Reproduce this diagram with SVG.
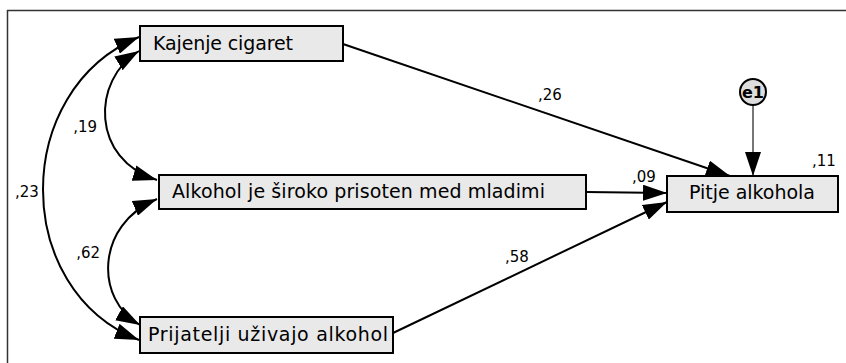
<svg xmlns="http://www.w3.org/2000/svg" width="846" height="363" viewBox="0 0 846 363">
<style>
.box{fill:#e9e9e9;stroke:#000;stroke-width:2}
.lbl{font-family:"DejaVu Sans",sans-serif;font-size:19px;fill:#000}
.num{font-family:"DejaVu Sans",sans-serif;font-size:15px;fill:#000}
.con{fill:none;stroke:#000;stroke-width:2}
.err{fill:none;stroke:#777;stroke-width:2}
</style>
<defs>
<marker id="ah" markerUnits="userSpaceOnUse" markerWidth="26" markerHeight="16" refX="24" refY="8" orient="auto-start-reverse">
<path d="M0,0 L24,8 L0,16 z" fill="#000"/>
</marker>
</defs>
<rect x="0" y="0" width="846" height="363" fill="#fff"/>
<g id="frame" stroke="#333" stroke-width="1.5">
<line x1="7" y1="10.5" x2="846" y2="10.5"/>
<line x1="7.5" y1="10" x2="7.5" y2="363"/>
</g>
<g id="connectors">
<path class="con" d="M139,37 C11,90 11,290 139,340" marker-start="url(#ah)" marker-end="url(#ah)"/>
<path class="con" d="M139,51 C91,80 91,160 157,180" marker-start="url(#ah)" marker-end="url(#ah)"/>
<path class="con" d="M157,199 C95,225 95,300 140,325" marker-start="url(#ah)" marker-end="url(#ah)"/>
<line class="con" x1="343" y1="44" x2="730" y2="176" marker-end="url(#ah)"/>
<line class="con" x1="586" y1="192" x2="667" y2="193" marker-end="url(#ah)"/>
<line class="con" x1="393" y1="333" x2="667" y2="202" marker-end="url(#ah)"/>
<line class="err" x1="753" y1="105" x2="753" y2="176" marker-end="url(#ah)"/>
<text class="num" x="538" y="100">,26</text>
<text class="num" x="632" y="182">,09</text>
<text class="num" x="505" y="262">,58</text>
<text class="num" x="97" y="132" text-anchor="end">,19</text>
<text class="num" x="15" y="197">,23</text>
<text class="num" x="100" y="258" text-anchor="end">,62</text>
</g>
<g id="kajenje">
<rect class="box" x="140" y="26" width="203" height="35"/>
<text class="lbl" x="153" y="50" textLength="140">Kajenje cigaret</text>
</g>
<g id="alkohol">
<rect class="box" x="159" y="175" width="427" height="34"/>
<text class="lbl" x="172" y="198" textLength="373">Alkohol je široko prisoten med mladimi</text>
</g>
<g id="prijatelji">
<rect class="box" x="140" y="317" width="253" height="36"/>
<text class="lbl" x="148" y="341" textLength="240">Prijatelji uživajo alkohol</text>
</g>
<g id="pitje">
<rect class="box" x="667" y="176" width="171" height="36"/>
<text class="lbl" x="689" y="199" textLength="126">Pitje alkohola</text>
<text class="num" x="812" y="166">,11</text>
</g>
<g id="e1">
<circle cx="753" cy="92" r="13" fill="#ddd" stroke="#000" stroke-width="2"/>
<text x="753" y="98" text-anchor="middle" font-family="DejaVu Sans,sans-serif" font-size="16" font-weight="bold">e1</text>
</g>
</svg>
